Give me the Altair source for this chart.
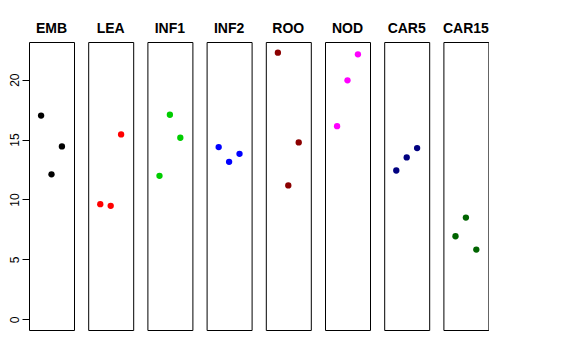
import altair as alt
import pandas as pd

tissues = ["EMB", "LEA", "INF1", "INF2", "ROO", "NOD", "CAR5", "CAR15"]
colors = ["#000000", "#FF0000", "#00CD00", "#0000FF", "#8B0000", "#FF00FF", "#000080", "#006400"]
rep = [1, 2, 3]
EMB = [17.0, 12.1, 14.43]
LEA = [9.61, 9.47, 15.43]
INF1 = [11.97, 17.07, 15.15]
INF2 = [14.37, 13.14, 13.81]
ROO = [22.25, 11.17, 14.76]
NOD = [16.12, 19.94, 22.11]
CAR5 = [12.42, 13.51, 14.29]
CAR15 = [6.93, 8.49, 5.82]
y_ticks = [0, 5, 10, 15, 20]

series = [EMB, LEA, INF1, INF2, ROO, NOD, CAR5, CAR15]
rows = []
for t, vals in zip(tissues, series):
    for r, v in zip(rep, vals):
        rows.append({"tissue": t, "rep": r, "value": v})
df = pd.DataFrame(rows)

FONT = "Liberation Sans"

chart = alt.Chart(df).mark_circle(size=40, opacity=1).encode(
    x=alt.X("rep:Q", axis=None, scale=alt.Scale(domain=[-0.16, 4.16], nice=False, zero=False)),
    y=alt.Y("value:Q", title=None,
            scale=alt.Scale(domain=[-0.89, 23.14], nice=False, zero=False),
            axis=alt.Axis(values=y_ticks, labelAngle=270, domain=False, grid=False,
                          tickSize=7, tickColor="black", labelColor="black",
                          labelFont=FONT, labelFontSize=12, labelPadding=4,
                          labelBaseline="alphabetic", labelAlign="center")),
    color=alt.Color("tissue:N", legend=None,
                    scale=alt.Scale(domain=tissues, range=colors)),
).properties(width=45, height=288).facet(
    column=alt.Column("tissue:N", sort=tissues, title=None,
                      header=alt.Header(labelFont=FONT, labelFontSize=14,
                                        labelFontWeight="bold", labelColor="black",
                                        labelPadding=6)),
    spacing=14.2,
    bounds="flush",
).configure_view(stroke="black", strokeWidth=1).properties(
    padding={"left": 0, "top": 14, "right": 0, "bottom": 0}
)

chart.save("out.html", embed_options={"renderer": "svg", "actions": False})
